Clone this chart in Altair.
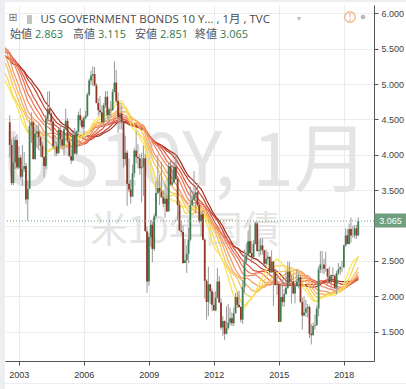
import altair as alt
import pandas as pd

# ---- data (monthly US10Y, TVC) ----
# closes before the visible range, used only to seed the moving averages (Jan 1998 - Jul 2002)
seed_closes = [5.51, 5.62, 5.66, 5.67, 5.55, 5.45, 5.49, 5.05, 4.42, 4.61, 4.71, 4.65,
               4.65, 5.29, 5.24, 5.35, 5.62, 5.78, 5.90, 5.97, 5.88, 6.02, 6.19, 6.44,
               6.67, 6.41, 6.00, 6.21, 6.27, 6.03, 6.03, 5.73, 5.80, 5.75, 5.47, 5.11,
               5.11, 4.90, 4.92, 5.34, 5.38, 5.41, 5.05, 4.83, 4.59, 4.23, 4.75, 5.05,
               5.03, 4.86, 5.40, 5.09, 5.04, 4.80, 4.46]

# visible candles, Aug 2002 - Sep 2018
opens = [4.46, 4.14, 3.60, 3.89, 4.21,
         3.82, 3.96, 3.69, 3.80, 3.84, 3.37, 3.52, 4.41, 4.46, 3.94, 4.30, 4.33,
         4.25, 4.13, 3.97, 3.84, 4.51, 4.65, 4.58, 4.47, 4.12, 4.12, 4.02, 4.35,
         4.22, 4.13, 4.36, 4.48, 4.20, 3.98, 3.92, 4.28, 4.02, 4.33, 4.56, 4.49,
         4.39, 4.52, 4.55, 4.85, 5.05, 5.12, 5.14, 4.98, 4.73, 4.63, 4.60, 4.46,
         4.70, 4.82, 4.56, 4.64, 4.63, 4.89, 5.02, 4.76, 4.53, 4.58, 4.47, 3.94,
         4.03, 3.59, 3.51, 3.41, 3.74, 4.06, 3.97, 3.95, 3.81, 3.83, 3.95, 2.92,
         2.21, 2.84, 3.01, 2.67, 3.13, 3.46, 3.53, 3.48, 3.40, 3.31, 3.38, 3.20,
         3.84, 3.58, 3.61, 3.83, 3.66, 3.29, 2.93, 2.91, 2.47, 2.51, 2.60, 2.80,
         3.29, 3.37, 3.43, 3.47, 3.29, 3.06, 3.16, 2.80, 2.22, 1.92, 2.17, 2.07,
         1.88, 1.80, 1.98, 2.21, 1.91, 1.56, 1.65, 1.47, 1.55, 1.63, 1.69, 1.62,
         1.76, 1.99, 1.88, 1.85, 1.67, 2.13, 2.49, 2.58, 2.78, 2.61, 2.55, 2.74,
         3.03, 2.64, 2.65, 2.72, 2.65, 2.46, 2.53, 2.56, 2.34, 2.49, 2.34, 2.16,
         2.17, 1.64, 1.99, 1.92, 2.03, 2.12, 2.35, 2.20, 2.21, 2.04, 2.14, 2.21,
         2.27, 1.92, 1.73, 1.77, 1.83, 1.85, 1.47, 1.45, 1.58, 1.59, 1.83, 2.38,
         2.45, 2.45, 2.39, 2.39, 2.28, 2.20, 2.30, 2.29, 2.12, 2.33, 2.38, 2.41,
         2.41, 2.72, 2.86, 2.74, 2.95, 2.86, 2.86, 2.96, 2.863]
highs = [4.56, 4.22, 4.25, 4.26, 4.29,
         4.12, 4.00, 4.14, 4.04, 3.89, 3.64, 4.49, 4.60, 4.48, 4.40, 4.42, 4.43,
         4.27, 4.18, 3.98, 4.56, 4.89, 4.90, 4.60, 4.51, 4.28, 4.20, 4.37, 4.42,
         4.33, 4.38, 4.65, 4.52, 4.25, 4.13, 4.32, 4.38, 4.34, 4.61, 4.66, 4.53,
         4.55, 4.62, 4.88, 5.08, 5.19, 5.25, 5.24, 5.01, 4.80, 4.83, 4.70, 4.73,
         4.90, 4.90, 4.66, 4.76, 4.93, 5.32, 5.20, 4.88, 4.74, 4.70, 4.49, 4.27,
         4.07, 3.95, 3.65, 3.86, 4.10, 4.33, 4.15, 4.01, 4.03, 4.13, 4.01, 2.98,
         2.90, 3.08, 3.05, 3.17, 3.63, 4.00, 3.72, 3.90, 3.50, 3.59, 3.55, 3.90,
         3.91, 3.79, 3.90, 4.01, 3.70, 3.35, 3.07, 3.00, 2.81, 2.72, 2.97, 3.55,
         3.49, 3.77, 3.57, 3.60, 3.34, 3.19, 3.22, 2.82, 2.24, 2.42, 2.17, 2.11,
         2.06, 2.07, 2.40, 2.29, 1.97, 1.72, 1.66, 1.86, 1.89, 1.84, 1.77, 1.84,
         2.05, 2.06, 2.08, 1.86, 2.23, 2.66, 2.75, 2.93, 3.01, 2.78, 2.80, 3.05,
         3.05, 2.81, 2.82, 2.82, 2.66, 2.66, 2.63, 2.56, 2.65, 2.50, 2.40, 2.30,
         2.17, 2.15, 2.24, 2.10, 2.36, 2.49, 2.48, 2.30, 2.30, 2.18, 2.38, 2.33,
         2.30, 1.98, 2.00, 1.95, 1.89, 1.87, 1.61, 1.63, 1.74, 1.87, 2.42, 2.64,
         2.64, 2.53, 2.63, 2.39, 2.42, 2.31, 2.41, 2.31, 2.36, 2.47, 2.43, 2.50,
         2.73, 2.96, 2.95, 3.03, 3.115, 3.00, 3.01, 3.01, 3.115]
lows = [3.96, 3.57, 3.57, 3.80, 3.79,
        3.80, 3.65, 3.56, 3.76, 3.30, 3.07, 3.52, 4.17, 3.93, 3.93, 4.10, 4.07,
        3.97, 3.96, 3.68, 3.80, 4.46, 4.56, 4.36, 4.08, 3.98, 3.98, 4.02, 4.12,
        4.09, 3.99, 4.36, 4.17, 3.98, 3.87, 3.91, 4.01, 3.99, 4.31, 4.41, 4.36,
        4.28, 4.50, 4.54, 4.83, 4.99, 4.97, 4.97, 4.73, 4.55, 4.56, 4.43, 4.42,
        4.66, 4.50, 4.45, 4.53, 4.62, 4.88, 4.73, 4.31, 4.36, 4.36, 3.82, 3.85,
        3.28, 3.47, 3.31, 3.41, 3.68, 3.88, 3.81, 3.72, 3.33, 3.42, 2.92, 2.05,
        2.15, 2.70, 2.48, 2.64, 3.10, 3.44, 3.29, 3.39, 3.26, 3.11, 3.19, 3.20,
        3.56, 3.56, 3.61, 3.64, 3.07, 2.93, 2.87, 2.46, 2.47, 2.33, 2.47, 2.78,
        3.27, 3.36, 3.17, 3.27, 3.03, 2.85, 2.79, 1.97, 1.67, 1.72, 1.89, 1.79,
        1.80, 1.79, 1.97, 1.91, 1.53, 1.44, 1.38, 1.46, 1.53, 1.59, 1.58, 1.58,
        1.76, 1.84, 1.84, 1.63, 1.61, 2.05, 2.46, 2.56, 2.60, 2.47, 2.55, 2.74,
        2.63, 2.56, 2.58, 2.59, 2.44, 2.43, 2.44, 2.30, 2.33, 1.86, 2.15, 2.02,
        1.64, 1.64, 1.86, 1.85, 2.03, 2.10, 2.17, 1.90, 2.03, 1.90, 2.14, 2.11,
        1.91, 1.53, 1.72, 1.71, 1.70, 1.41, 1.32, 1.45, 1.53, 1.59, 1.72, 2.33,
        2.33, 2.31, 2.35, 2.17, 2.18, 2.10, 2.24, 2.10, 2.03, 2.30, 2.30, 2.34,
        2.40, 2.70, 2.74, 2.73, 2.76, 2.83, 2.82, 2.81, 2.851]
closes = [4.14, 3.60, 3.89, 4.21, 3.82,
          3.96, 3.69, 3.80, 3.84, 3.37, 3.52, 4.41, 4.46, 3.94, 4.30, 4.33, 4.25,
          4.13, 3.97, 3.84, 4.51, 4.65, 4.58, 4.47, 4.12, 4.12, 4.02, 4.35, 4.22,
          4.13, 4.36, 4.48, 4.20, 3.98, 3.92, 4.28, 4.02, 4.33, 4.56, 4.49, 4.39,
          4.52, 4.55, 4.85, 5.05, 5.12, 5.14, 4.98, 4.73, 4.63, 4.60, 4.46, 4.70,
          4.82, 4.56, 4.64, 4.63, 4.89, 5.02, 4.76, 4.53, 4.58, 4.47, 3.94, 4.03,
          3.59, 3.51, 3.41, 3.74, 4.06, 3.97, 3.95, 3.81, 3.83, 3.95, 2.92, 2.21,
          2.84, 3.01, 2.67, 3.13, 3.46, 3.53, 3.48, 3.40, 3.31, 3.38, 3.20, 3.84,
          3.58, 3.61, 3.83, 3.66, 3.29, 2.93, 2.91, 2.47, 2.51, 2.60, 2.80, 3.29,
          3.37, 3.43, 3.47, 3.29, 3.06, 3.16, 2.80, 2.22, 1.92, 2.17, 2.07, 1.88,
          1.80, 1.98, 2.21, 1.91, 1.56, 1.65, 1.47, 1.55, 1.63, 1.69, 1.62, 1.76,
          1.99, 1.88, 1.85, 1.67, 2.13, 2.49, 2.58, 2.78, 2.61, 2.55, 2.74, 3.03,
          2.64, 2.65, 2.72, 2.65, 2.46, 2.53, 2.56, 2.34, 2.49, 2.34, 2.16, 2.17,
          1.64, 1.99, 1.92, 2.03, 2.12, 2.35, 2.20, 2.21, 2.04, 2.14, 2.21, 2.27,
          1.92, 1.73, 1.77, 1.83, 1.85, 1.47, 1.45, 1.58, 1.59, 1.83, 2.38, 2.45,
          2.45, 2.39, 2.39, 2.28, 2.20, 2.30, 2.29, 2.12, 2.33, 2.38, 2.41, 2.41,
          2.72, 2.86, 2.74, 2.95, 2.86, 2.86, 2.96, 2.86, 3.065]

ma_periods = [20, 23, 27, 30, 33, 37, 40, 43, 47, 50]
ma_colors = ["#f9e55c", "#f8d65c", "#f7c55e", "#f5b060", "#f29a6a",
             "#ee8563", "#ea6f55", "#dd5640", "#c33d2c", "#9e2b1b"]
ma_widths = [1.3, 1.2, 1.2, 1.2, 1.2, 1.2, 1.2, 1.2, 1.3, 1.9]

y_ticks = [1.5, 2.0, 2.5, 3.0, 3.5, 4.0, 4.5, 5.0, 5.5, 6.0]
x_tick_years = [2003, 2006, 2009, 2012, 2015, 2018]

title_text = "US GOVERNMENT BONDS 10 Y... , 1月 , TVC"
watermark_1 = "US10Y, 1月"
watermark_2 = "米10年国債"
ohlc_labels = ["始値", "高値", "安値", "終値"]

# ---- tables ----
fmt = "%Y-%m-%dT00:00:00"
dates = pd.date_range("2002-08-01", periods=len(closes), freq="MS").strftime(fmt).tolist()
seed_dates = pd.date_range("1998-01-01", periods=len(seed_closes), freq="MS").strftime(fmt).tolist()
candles = pd.DataFrame({"date": dates, "open": opens, "high": highs, "low": lows, "close": closes})
ma_src = pd.DataFrame({"date": seed_dates + dates, "close": seed_closes + closes})
one = pd.DataFrame({"a": [0]})

GREEN = "#3f7d54"
RED = "#933523"
UI_FONT = "Open Sans, Noto Sans CJK JP, sans-serif"
AX_FONT = "Liberation Sans, Arial, sans-serif"

xscale = alt.Scale(domain=[alt.DateTime(year=2002, month=8, date=5),
                           alt.DateTime(year=2019, month=3, date=1)])
yscale = alt.Scale(domain=[1.086, 6.117], nice=False, zero=False)

x_axis = alt.Axis(values=[alt.DateTime(year=y, month=1, date=1) for y in x_tick_years],
                  format="%Y", title=None, tickSize=4, tickColor="#555", domainColor="#555",
                  labelColor="#333", labelFontSize=9, labelFont=AX_FONT, labelFlush=False,
                  labelOverlap=False, labelPadding=5, gridColor="#ececec", zindex=0)
y_axis = alt.Axis(orient="right", values=y_ticks, title=None, labelOverlap=False,
                  labelExpr="datum.value == 3 ? '' : format(datum.value, '.3f')",
                  tickSize=4, tickColor="#555", domainColor="#555", labelColor="#444",
                  labelFontSize=9, labelFont=AX_FONT, labelPadding=3,
                  gridColor="#ececec", zindex=0)

X = alt.X("date:T", scale=xscale, axis=x_axis)


def txt(text, x, y, size, color, align="left", font=UI_FONT, weight="normal"):
    return alt.Chart(one).mark_text(text=text, align=align, baseline="middle", fontSize=size,
                                    color=color, font=font, fontWeight=weight).encode(
        x=alt.value(x), y=alt.value(y))


watermark = (txt(watermark_1, 180, 158, 75, "#e4e4e4", align="center", font="Noto Sans CJK JP")
             + txt(watermark_2, 180, 227, 37, "#e4e4e4", align="center", font="Noto Sans CJK JP"))

ma_chart = alt.Chart(ma_src)
for p in ma_periods:
    ma_chart = ma_chart.transform_window(**{f"ma{p}": "mean(close)"}, frame=[-(p - 1), 0],
                                         sort=[alt.SortField("date")])
ma_keys = [f"ma{p}" for p in ma_periods]
ribbon = ma_chart.transform_fold(ma_keys[::-1], as_=["ma", "value"]).mark_line(
    clip=True).encode(
    x=X,
    y=alt.Y("value:Q", scale=yscale, axis=y_axis),
    color=alt.Color("ma:N", scale=alt.Scale(domain=ma_keys, range=ma_colors), legend=None),
    strokeWidth=alt.StrokeWidth("ma:N", scale=alt.Scale(domain=ma_keys, range=ma_widths),
                                legend=None),
)

wicks = alt.Chart(candles).mark_rule(clip=True, color="#9a9a9a", strokeWidth=1).encode(
    x=X, y=alt.Y("low:Q", scale=yscale, axis=y_axis), y2="high:Q")
bodies = alt.Chart(candles).mark_bar(clip=True, size=1.8).encode(
    x=X, y=alt.Y("open:Q", scale=yscale, axis=y_axis), y2="close:Q",
    color=alt.condition("datum.close >= datum.open", alt.value(GREEN), alt.value(RED)))

last_close = closes[-1]
last_line = alt.Chart(one).mark_rule(color="#6f9f7e", strokeDash=[1, 2], strokeWidth=1).encode(
    y=alt.YDatum(last_close, axis=y_axis))
last_box = alt.Chart(one).mark_rect(color="#6f9f7e").encode(
    x=alt.value(369.5), x2=alt.value(401), y=alt.value(208.5), y2=alt.value(222.5))
last_txt = alt.Chart(one).mark_text(text=f"{last_close:.3f}", align="center", baseline="middle",
                                    fontSize=9, color="white", font=AX_FONT).encode(
    x=alt.value(385.5), y=alt.YDatum(last_close, axis=y_axis))

frame_left = alt.Chart(one).mark_rect(color="#eceef1").encode(
    x=alt.value(-5), x2=alt.value(0), y=alt.value(-5), y2=alt.value(384))
frame_top = alt.Chart(one).mark_rect(color="#eceef1").encode(
    x=alt.value(-5), x2=alt.value(401), y=alt.value(-5), y2=alt.value(-3))
frame_bottom = alt.Chart(one).mark_rect(color="#eceef1").encode(
    x=alt.value(-5), x2=alt.value(401), y=alt.value(378), y2=alt.value(379))

flag = alt.Chart(one).mark_rect(color="#c4c4c4").encode(
    x=alt.value(22), x2=alt.value(27), y=alt.value(10), y2=alt.value(19))
warn_circle = alt.Chart(one).mark_point(shape="circle", size=110, color="#f0994f",
                                        strokeWidth=1.3, filled=False).encode(
    x=alt.value(345), y=alt.value(12))
dot = alt.Chart(one).mark_point(shape="circle", size=22, color="#999", filled=True).encode(
    x=alt.value(358), y=alt.value(12))

header = (txt("⊞", 8, 13, 11, "#777", align="center", font="DejaVu Sans")
          + flag
          + txt(title_text, 35.5, 14.5, 11.5, "#4a4a4a")
          + txt("▾", 294, 14, 8, "#bbb", align="center", font="DejaVu Sans")
          + warn_circle + txt("!", 345, 12.5, 10, "#f0994f", align="center")
          + dot)

vals = [opens[-1], highs[-1], lows[-1], closes[-1]]
label_x = [5, 68, 130, 190]
for lab, v, lx in zip(ohlc_labels, vals, label_x):
    header = header + txt(lab, lx, 30, 11, "#555") + txt(f"{v:.3f}", lx + 25, 30, 11, "#2f7a4c")

chart = alt.layer(
    frame_left, frame_top, frame_bottom, watermark, ribbon, wicks, bodies,
    last_line, last_box, last_txt, header
).properties(
    width=369, height=356, autosize="none",
    padding={"left": 5, "top": 5, "right": 32, "bottom": 28},
    background="white",
).configure_view(stroke=None).configure_axis(labelOverlap=False)

chart.save("out.html", embed_options={"renderer": "svg", "actions": False})
